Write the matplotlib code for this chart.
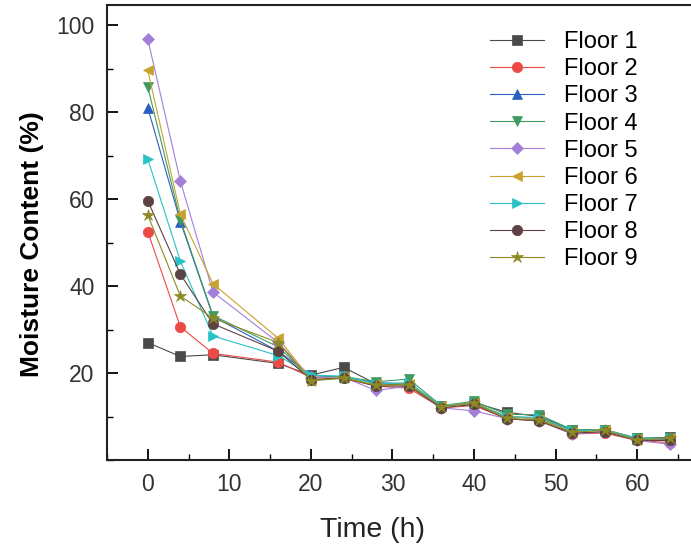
import numpy as np
import matplotlib.pyplot as plt
from matplotlib.ticker import MultipleLocator

plt.rcParams['font.family'] = ['Liberation Sans', 'DejaVu Sans']

# Sampling times (h)
time_h = [0, 4, 8, 16, 20, 24, 28, 32, 36, 40, 44, 48, 52, 56, 60, 64]

# Moisture content (%) per floor
floor1 = [27.0, 23.8, 24.2, 22.2, 19.5, 21.3, 17.5, 17.2, 12.5, 13.2, 11.0, 10.0, 7.0, 7.0, 5.0, 5.2]
floor2 = [52.5, 30.6, 24.5, 22.5, 19.0, 19.0, 17.0, 16.5, 12.0, 12.5, 9.5, 9.0, 6.0, 6.2, 4.5, 4.0]
floor3 = [81.0, 54.8, 33.0, 25.0, 19.5, 19.0, 17.8, 17.5, 12.5, 13.0, 10.0, 9.5, 6.8, 6.8, 4.8, 4.8]
floor4 = [85.8, 55.2, 33.2, 26.0, 19.0, 19.2, 18.0, 18.6, 12.5, 13.5, 10.5, 10.4, 7.0, 7.0, 5.0, 5.0]
floor5 = [96.8, 64.1, 38.6, 27.0, 19.0, 19.0, 16.0, 17.0, 12.0, 11.3, 9.5, 9.0, 6.0, 6.5, 4.5, 3.6]
floor6 = [89.6, 56.5, 40.5, 28.0, 18.5, 19.0, 17.5, 17.5, 12.5, 13.2, 10.0, 9.5, 6.5, 7.0, 4.8, 5.0]
floor7 = [69.2, 45.7, 28.5, 24.0, 19.5, 19.3, 17.5, 17.8, 12.5, 13.0, 10.0, 9.8, 6.8, 6.8, 5.0, 5.0]
floor8 = [59.6, 42.7, 31.3, 25.0, 18.5, 18.8, 17.0, 17.0, 12.0, 12.8, 9.5, 9.0, 6.2, 6.5, 4.5, 4.5]
floor9 = [56.3, 37.7, 32.6, 27.0, 18.2, 18.8, 17.2, 17.2, 12.3, 13.0, 9.6, 9.2, 6.4, 6.8, 4.6, 5.0]

series = [floor1, floor2, floor3, floor4, floor5, floor6, floor7, floor8, floor9]
labels = ['Floor 1', 'Floor 2', 'Floor 3', 'Floor 4', 'Floor 5',
          'Floor 6', 'Floor 7', 'Floor 8', 'Floor 9']
markers = ['s', 'o', '^', 'v', 'D', '<', '>', 'o', '*']
colors = ['#4a4a4a', '#ec4a44', '#2a5fc0', '#3f9a62', '#a47fd8',
          '#c8a22e', '#28c2c4', '#5c4242', '#8c8a24']
sizes = [6.5, 7.5, 7.5, 7.5, 6.5, 7.5, 7.5, 7.5, 9]

fig = plt.figure(figsize=(6.91, 5.5), dpi=100)
ax = fig.add_axes([0.1548, 0.1636, 0.8452, 0.8273])

for y, lab, m, c, s in zip(series, labels, markers, colors, sizes):
    ax.plot(time_h, y, marker=m, color=c, markersize=s, lw=0.8,
            markeredgewidth=0.5, label=lab)

ax.set_xlim(-5, 66.6)
ax.set_ylim(0, 104.6)
ax.set_xticks(np.arange(0, 61, 10))
ax.set_yticks([20, 40, 60, 80, 100])
ax.xaxis.set_minor_locator(MultipleLocator(5))
ax.yaxis.set_minor_locator(MultipleLocator(10))
ax.tick_params(which='major', direction='in', length=8, width=1.3,
               pad=9, labelsize=16.5, labelcolor='#333333')
ax.tick_params(which='minor', direction='in', length=4, width=1.0)
ax.spines['right'].set_visible(False)
for sp in ax.spines.values():
    sp.set_linewidth(1.5)
    sp.set_color('#222222')

ax.set_xlabel('Time (h)', fontsize=20.5, color='#222222')
ax.xaxis.set_label_coords(0.455, -0.125)
ax.set_ylabel('Moisture Content (%)', fontsize=19, fontweight='bold')
ax.yaxis.set_label_coords(-0.108, 0.475)

ax.legend(loc='upper left', bbox_to_anchor=(0.656, 0.943), frameon=False,
          fontsize=17, handlelength=2.3, labelspacing=0.22,
          handletextpad=0.85, borderaxespad=0, borderpad=0)

plt.savefig('out.png', dpi=100)
